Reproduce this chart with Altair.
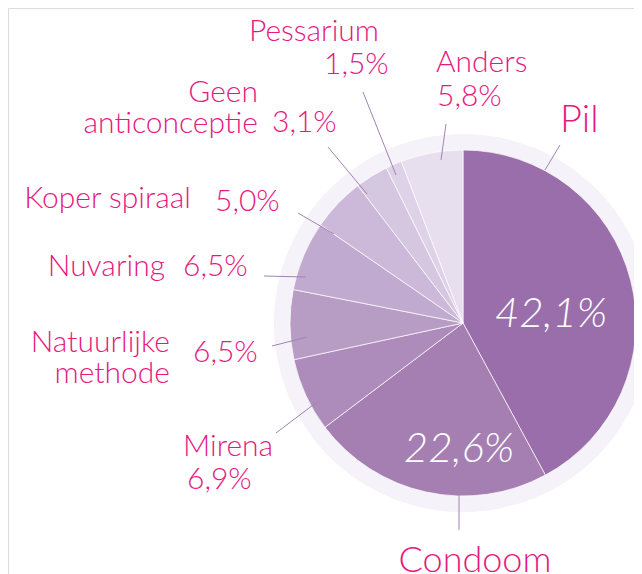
import altair as alt
import pandas as pd

# ---- data ----
categories = ["Pil", "Condoom", "Mirena", "Natuurlijke methode", "Nuvaring",
              "Koper spiraal", "Geen anticonceptie", "Pessarium", "Anders"]
values = [42.1, 22.6, 6.9, 6.5, 6.5, 5.0, 3.1, 1.5, 5.8]
slice_colors = ["#9a6eaa", "#a57eb2", "#ad8bba", "#b79cc4", "#c1aacf",
                "#ccb9d9", "#d6c7e1", "#ded2e8", "#e8dfee"]


def pct(v):
    return f"{v:.1f}".replace(".", ",") + "%"


W, H = 626, 566
OFF = 8  # page margin; layout coordinates below are page coordinates
CX, CY = 463, 323
R_PIE, R_RING = 173, 189
TEXT = "#e6197f"
FONT = "Lato"
FS = 30

pie_df = pd.DataFrame({"cat": categories, "value": values,
                       "idx": list(range(len(categories)))})

# label layout (page coordinates, baseline)
lab = [
    ("Pessarium", 314, 41, "center", FS),
    (pct(values[7]), 324, 74, "left", FS),
    ("Anders", 436, 72, "left", FS),
    (pct(values[8]), 437, 106, "left", FS),
    ("Pil", 560, 132, "left", 38),
    ("Geen", 258, 102, "right", FS),
    ("anticonceptie", 258, 133, "right", FS),
    (pct(values[6]), 272, 132, "left", FS),
    ("Koper spiraal", 191, 208, "right", FS),
    (pct(values[5]), 215, 211, "left", FS),
    ("Nuvaring", 165, 276, "right", FS),
    (pct(values[4]), 183, 276, "left", FS),
    ("Natuurlijke", 170, 352, "right", FS),
    ("methode", 170, 383, "right", FS),
    (pct(values[3]), 193, 362, "left", FS),
    ("Mirena", 183, 456, "left", FS),
    (pct(values[2]), 187, 489, "left", FS),
    ("Condoom", 475, 572, "center", 36),
]
lab_df = pd.DataFrame(lab, columns=["text", "x", "y", "align", "size"])

big = pd.DataFrame({"text": [pct(values[0]), pct(values[1])],
                    "x": [551, 459], "y": [327, 462]})

leaders = pd.DataFrame({
    "x": [560, 459, 446, 363, 328, 298, 264, 272, 276],
    "y": [145, 530, 124, 92, 147, 213, 276, 346, 433],
    "x2": [545, 459, 441, 396, 367, 334, 306, 307, 317],
    "y2": [170, 487, 160, 175, 194, 234, 277, 337, 402],
})

xs = alt.Scale(domain=[OFF, OFF + W], range=[0, W])
ys = alt.Scale(domain=[OFF, OFF + H], range=[0, H])

ring = alt.Chart(pd.DataFrame({"v": [1]})).mark_arc(
    radius=R_RING, color="#f6f2f9", theta=0, theta2=6.2832
).encode(x=alt.value(CX - OFF), y=alt.value(CY - OFF))

pie = alt.Chart(pie_df).mark_arc(
    radius=R_PIE, stroke="white", strokeWidth=0.7
).encode(
    theta=alt.Theta("value:Q", stack=True),
    order=alt.Order("idx:Q"),
    color=alt.Color("cat:N", scale=alt.Scale(domain=categories, range=slice_colors), legend=None),
    x=alt.value(CX - OFF), y=alt.value(CY - OFF),
)

lines = alt.Chart(leaders).mark_rule(color="#a283b3", strokeWidth=1).encode(
    x=alt.X("x:Q", scale=xs, axis=None),
    y=alt.Y("y:Q", scale=ys, axis=None),
    x2="x2:Q", y2="y2:Q",
)


def text_layer(align):
    return alt.Chart(lab_df).transform_filter(
        alt.datum.align == align
    ).mark_text(align=align, baseline="alphabetic", font=FONT, fontWeight=300,
                color=TEXT).encode(
        x=alt.X("x:Q", scale=xs, axis=None),
        y=alt.Y("y:Q", scale=ys, axis=None),
        text="text:N",
        size=alt.Size("size:Q", scale=None, legend=None),
    )


big_txt = alt.Chart(big).mark_text(
    align="center", baseline="alphabetic", font=FONT, fontWeight=300,
    fontStyle="italic", fontSize=42, color="white"
).encode(
    x=alt.X("x:Q", scale=xs, axis=None),
    y=alt.Y("y:Q", scale=ys, axis=None),
    text="text:N",
)

chart = alt.layer(
    ring, pie, lines, text_layer("left"), text_layer("right"), text_layer("center"), big_txt
).properties(
    width=W, height=H, padding=0, autosize=alt.AutoSizeParams(type="none")
).configure_view(stroke=None).configure(background="white")

chart.save("out.html", embed_options={"renderer": "svg", "actions": False})
